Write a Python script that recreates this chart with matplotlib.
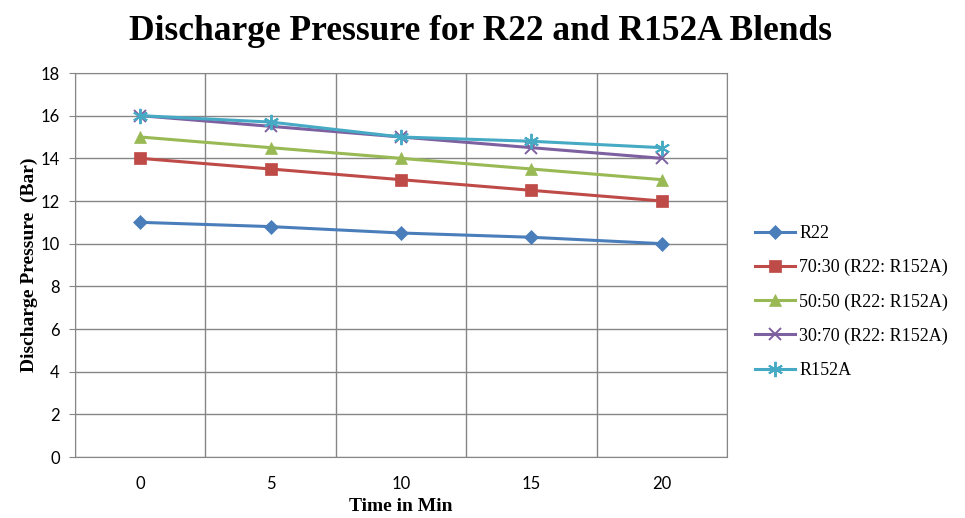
import numpy as np
import matplotlib.pyplot as plt

times = ["0", "5", "10", "15", "20"]
r22 = [11.0, 10.8, 10.5, 10.3, 10.0]
b70_30 = [14.0, 13.5, 13.0, 12.5, 12.0]
b50_50 = [15.0, 14.5, 14.0, 13.5, 13.0]
b30_70 = [16.0, 15.5, 15.0, 14.5, 14.0]
r152a = [16.0, 15.7, 15.0, 14.8, 14.5]

labels = ["R22", "70:30 (R22: R152A)", "50:50 (R22: R152A)",
          "30:70 (R22: R152A)", "R152A"]
colors = ["#4A7EBB", "#BE4B48", "#98B954", "#7D60A0", "#46AAC5"]
markers = ["D", "s", "^", "x", (6, 2, 0)]
msizes = [7, 9, 8, 9, 11]

serif = "Liberation Serif"
sans = "Lato"

fig = plt.figure(figsize=(9.65, 5.18), dpi=100)
ax = fig.add_axes([75 / 965, 61 / 518, 652 / 965, 384 / 518])

x = np.arange(len(times))
series = [r22, b70_30, b50_50, b30_70, r152a]
handles = []
for vals, lab, c, m, ms in zip(series, labels, colors, markers, msizes):
    thin = m == "x" or isinstance(m, tuple)
    h, = ax.plot(x, vals, color=c, lw=2.2, marker=m, markersize=ms,
                 markeredgewidth=1.4 if thin else 0.5,
                 markeredgecolor=c, label=lab)
    handles.append(h)

ax.set_xlim(-0.5, 4.5)
ax.set_ylim(0, 18)
ax.set_yticks(np.arange(0, 19, 2))
ax.set_xticks(x)
ax.set_xticklabels(times)
ax.set_xticks(np.arange(-0.5, 4.6, 1), minor=True)
ax.grid(True, which="minor", axis="x", color="#868686", lw=1)
ax.grid(True, which="major", axis="y", color="#868686", lw=1)
ax.set_axisbelow(True)
ax.tick_params(axis="x", which="both", length=0, pad=14)
ax.tick_params(axis="y", length=4, color="#868686", pad=7)
for lbl in ax.get_xticklabels() + ax.get_yticklabels():
    lbl.set_fontfamily(sans)
    lbl.set_fontsize(12)
for s in ax.spines.values():
    s.set_color("#868686")

ax.set_xlabel("Time in Min", fontfamily=serif, fontweight="bold", fontsize=14, labelpad=4)
ax.set_ylabel("Discharge Pressure  (Bar)", fontfamily=serif, fontweight="bold", fontsize=14, labelpad=2)
fig.text(0.498, 0.94, "Discharge Pressure for R22 and R152A Blends",
         ha="center", va="center", fontfamily=serif, fontweight="bold", fontsize=25.5)

leg = fig.legend(handles=handles, loc="upper left", bbox_to_anchor=(755 / 965, 1 - 225 / 518),
                 frameon=False, prop={"family": serif, "size": 13},
                 borderaxespad=0, borderpad=0,
                 handlelength=2.2, handletextpad=0.25, labelspacing=0.94)

fig.savefig("out.png", dpi=100)
